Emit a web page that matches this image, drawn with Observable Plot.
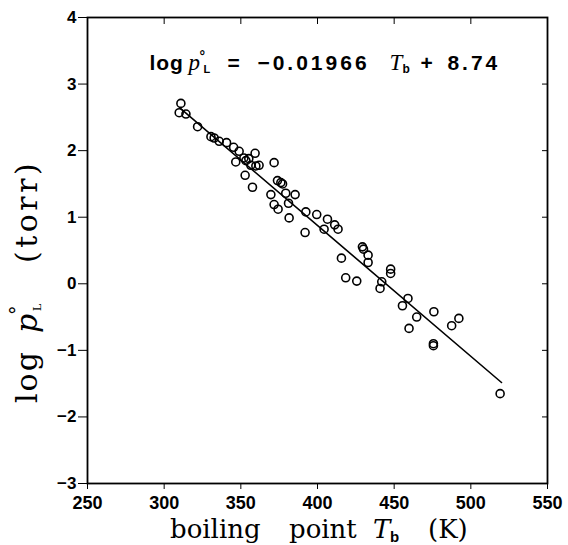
<!DOCTYPE html>
<html><head><meta charset="utf-8">
<script src="https://cdn.jsdelivr.net/npm/d3@7"></script>
<script src="https://cdn.jsdelivr.net/npm/@observablehq/plot@0.6"></script>
<style>body{margin:0;background:#fff} svg{display:block}</style>
</head><body><div id="chart"></div>
<script>
// boiling point T_b (K)
const boilingPoint = [310.9, 309.8, 314.2, 321.8, 330.5, 332.6, 335.9, 340.7, 345.3, 348.9,
  359.3, 352.0, 355.2, 353.3, 346.7, 371.7, 356.5, 359.8, 361.9, 352.8,
  357.6, 373.9, 376.1, 377.2, 369.6, 379.3, 385.4, 371.7, 374.3, 381.1,
  381.5, 392.4, 399.5, 391.9, 406.5, 404.3, 411.2, 413.4, 429.3, 430.0,
  433.0, 433.0, 415.6, 447.7, 447.7, 418.4, 425.6, 441.9, 440.8, 459.0,
  455.4, 464.7, 475.9, 459.7, 487.5, 492.2, 475.6, 475.6, 519.1];
// log p°L (torr)
const logP = [2.71, 2.57, 2.55, 2.36, 2.21, 2.19, 2.14, 2.12, 2.05, 1.99,
  1.96, 1.89, 1.88, 1.85, 1.83, 1.82, 1.78, 1.77, 1.78, 1.63,
  1.45, 1.55, 1.52, 1.50, 1.34, 1.36, 1.34, 1.19, 1.12, 1.21,
  0.99, 1.08, 1.04, 0.77, 0.97, 0.82, 0.885, 0.82, 0.555, 0.52,
  0.43, 0.32, 0.385, 0.22, 0.155, 0.09, 0.04, 0.03, -0.07, -0.22,
  -0.33, -0.50, -0.42, -0.67, -0.63, -0.52, -0.90, -0.93, -1.65];
// fitted line endpoints (log p = -0.01966 Tb + 8.74)
const fitT = [310, 520];
const fitLogP = [2.645, -1.483];
const xTicks = [250, 300, 350, 400, 450, 500, 550];
const yTicks = [-3, -2, -1, 0, 1, 2, 3, 4];
const eqAnchor = [290.7, 3.2];

const points = boilingPoint.map((t, i) => ({t, p: logP[i]}));
const fit = fitT.map((t, i) => ({t, p: fitLogP[i]}));

const chart = Plot.plot({
  width: 568, height: 545,
  marginLeft: 87, marginRight: 21, marginTop: 17, marginBottom: 62,
  style: {fontFamily: "'Liberation Sans', Arial, sans-serif", fontWeight: "bold", fontSize: "18px", color: "#000", background: "#fff"},
  x: {domain: [250, 550]},
  y: {domain: [-3, 4]},
  marks: [
    Plot.axisX({anchor: "bottom", ticks: xTicks, tickSize: 6, tickPadding: 7, tickFormat: d => String(d), label: null, fontSize: 18}),
    Plot.axisX({anchor: "top", ticks: xTicks, tickSize: -6, tickFormat: () => "", label: null}),
    Plot.axisY({anchor: "left", ticks: yTicks, tickSize: 9, tickPadding: 2, tickFormat: d => (d < 0 ? "−" : "") + Math.abs(d), label: null, fontSize: 17}),
    Plot.axisY({anchor: "right", ticks: yTicks, tickSize: -6, tickFormat: () => "", label: null}),
    Plot.frame({stroke: "#000", strokeWidth: 1.8}),
    Plot.line(fit, {x: "t", y: "p", stroke: "#000", strokeWidth: 1.6}),
    Plot.dot(points, {x: "t", y: "p", r: 4, stroke: "#000", strokeWidth: 1.6, fill: "none"})
  ]
});
document.getElementById("chart").appendChild(chart);

const svg = d3.select(chart);
const xs = chart.scale("x"), ys = chart.scale("y");

function addPieces(textSel, x0, y0, pieces) {
  for (const [txt, dx, dy, attrs] of pieces) {
    const t = textSel.append("tspan").attr("x", x0 + dx).attr("y", y0 + dy).text(txt);
    for (const k in (attrs || {})) t.attr(k, attrs[k]);
  }
}

// equation
const ex = xs.apply(eqAnchor[0]), ey = ys.apply(eqAnchor[1]);
const eq = svg.append("text")
  .attr("text-anchor", "start")
  .attr("font-family", "'Liberation Sans', Arial, sans-serif")
  .attr("font-weight", "bold").attr("font-size", 21)
  .attr("fill", "#000");
const serifIt = {"font-style": "italic", "font-family": "'Liberation Serif', serif", "font-weight": "normal", "font-size": 23};
addPieces(eq, ex, ey, [
  ["log", 0, 0, {"letter-spacing": 1}],
  ["p", 39, 0, serifIt],
  ["°", 50, -9, {"font-size": 14}],
  ["L", 54, 3, {"font-size": 11}],
  ["=", 78, 0],
  ["−0.01966", 108, 0, {"letter-spacing": 3}],
  ["T", 240, 0, serifIt],
  ["b", 253, 3, {"font-size": 12}],
  ["+", 271, 0],
  ["8.74", 298, 0, {"letter-spacing": 3}]
]);

// x title
const xt = svg.append("text")
  .attr("text-anchor", "start")
  .attr("font-family", "'DejaVu Serif', serif").attr("font-size", 26).attr("font-weight", "normal")
  .attr("fill", "#000");
addPieces(xt, 170, 538, [
  ["boiling", 0, 0],
  ["point", 119, 0],
  ["T", 203, 0, {"font-style": "italic"}],
  ["b", 220, 4, {"font-family": "'Liberation Sans', Arial, sans-serif", "font-weight": "bold", "font-size": 15}],
  ["(K)", 258, 0]
]);

// y title (rotated)
const yt = svg.append("text")
  .attr("transform", "translate(37,403) rotate(-90)").attr("text-anchor", "start")
  .attr("font-family", "'DejaVu Serif', serif").attr("font-size", 30).attr("font-weight", "normal")
  .attr("fill", "#000");
addPieces(yt, 0, 0, [
  ["log", 0, 0, {"letter-spacing": 2}],
  ["p", 70, 0, {"font-style": "italic"}],
  ["°", 88, -14, {"font-size": 19}],
  ["L", 92, 4, {"font-size": 11}],
  ["(torr)", 140, 0, {"letter-spacing": 3.5}]
]);
</script>
</body></html>
